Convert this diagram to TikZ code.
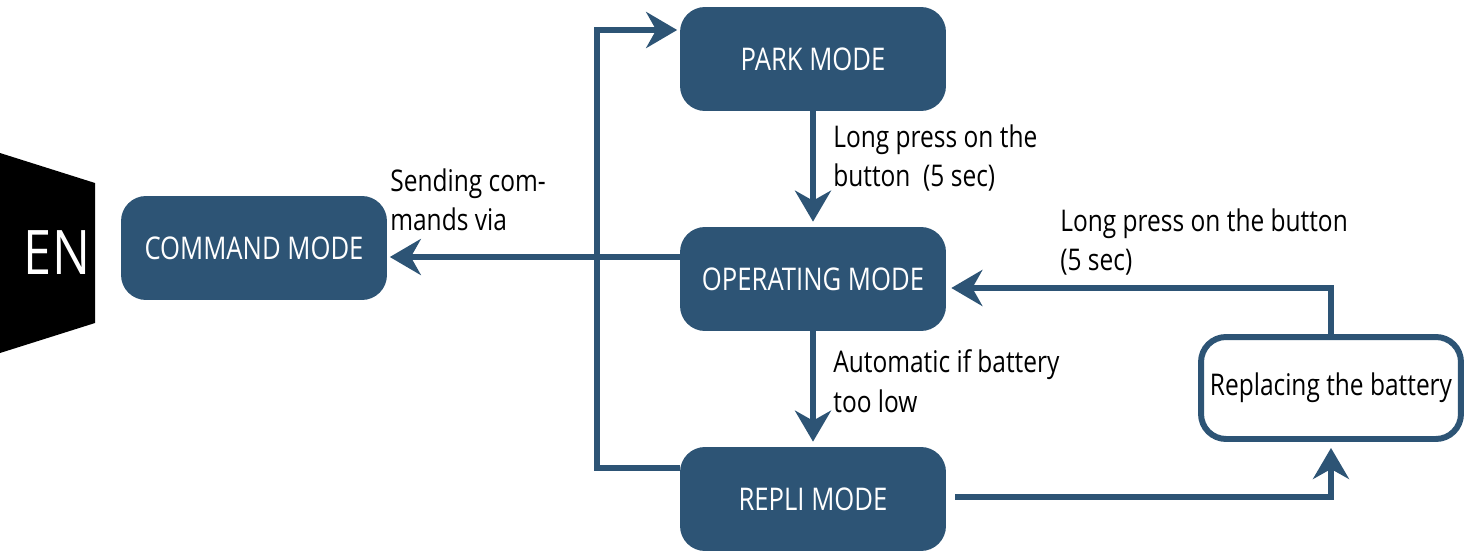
\documentclass[tikz,border=0pt]{standalone}
\usepackage{fontspec}
\setmainfont{Open Sans}[FakeStretch=0.82]
\usepackage{xcolor}
\usepackage{tikz}
\usetikzlibrary{arrows.meta}
\usetikzlibrary{calc}
\definecolor{modeblue}{RGB}{45,84,117}
\tikzset{
  modebox/.style={rounded corners=0.5cm, fill=modeblue, text=white,
    minimum width=5.32cm, minimum height=2.08cm, font=\fontsize{17.8}{20}\selectfont},
  stepbox/.style={rounded corners=0.5cm, draw=modeblue, line width=3.4pt, fill=white,
    minimum width=5.2cm, minimum height=2.04cm, font=\fontsize{17}{20}\selectfont},
  conn/.style={draw=modeblue, line width=3.5pt,
    -{Stealth[length=0.62cm, width=0.72cm, inset=0.2cm]}},
  note/.style={anchor=north west, align=left, inner sep=0pt,
    font=\fontsize{17}{22.7}\selectfont}
}

\begin{document}
\begin{tikzpicture}[x=0.02cm, y=-0.02cm]
\useasboundingbox (0,0) rectangle (1475,551);
% language tab
\fill (0,153) -- (95,183) -- (95,323) -- (0,353) -- cycle;
\node[text=white, font=\fontsize{35}{40}\selectfont] (lang) at (57,253) {EN};

% modes
\node[modebox] (cmd) at (254,248) {COMMAND MODE};
\node[modebox] (park) at (813,59) {PARK MODE};
\node[modebox] (oper) at (813,279) {OPERATING MODE};
\node[modebox] (repli) at (813,499) {REPLI MODE};
\node[stepbox] (repl) at (1331,388) {Replacing the battery};
\coordinate (loop) at (597,30);

% connectors
\draw[conn, shorten >=0.1cm] (park) -- (oper);
\draw[conn, shorten >=0.1cm] (oper) -- (repli);
\draw[conn, shorten >=0.05cm] ([yshift=0.44cm]oper.west) -- ([yshift=0.44cm]oper.west -| cmd.east);
\draw[conn, shorten >=0.05cm] ([yshift=0.62cm]repli.west) -| (loop) -- (loop -| park.west);
\draw[conn, shorten >=0.1cm] (repl.north) |- ([yshift=-0.18cm]oper.east);
\draw[conn, shorten <=0.18cm, shorten >=0.12cm] ([yshift=0.04cm]repli.east) -| (repl.south);

% labels
\node[note] (parklbl) at (833,124) {Long press on the\\button\ \ (5 sec)};
\node[note] (cmdlbl) at (390,168) {Sending com-\\mands via};
\node[note] (repllbl) at (1060,208) {Long press on the button\\(5 sec)};
\node[note] (operlbl) at (833,349) {Automatic if battery\\too low};
\end{tikzpicture}
\end{document}
